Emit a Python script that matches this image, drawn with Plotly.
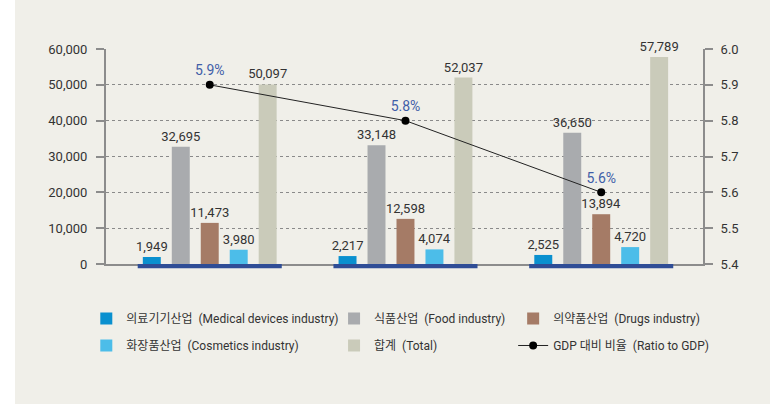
import plotly.graph_objects as go

# Industry output by year (three periods) and share of GDP
periods = ["P1", "P2", "P3"]
medical = [1949, 2217, 2525]
food = [32695, 33148, 36650]
drugs = [11473, 12598, 13894]
cosmetics = [3980, 4074, 4720]
total = [50097, 52037, 57789]
gdp_ratio = [5.9, 5.8, 5.6]
gdp_labels = ["5.9%", "5.8%", "5.6%"]

left_ticks = [0, 10000, 20000, 30000, 40000, 50000, 60000]
right_ticks = [5.4, 5.5, 5.6, 5.7, 5.8, 5.9, 6.0]

NUM_FONT = "Roboto, sans-serif"
LEG_FONT = "Roboto, Noto Sans CJK KR, sans-serif"
TXT = "#333333"

series = [
    ("의료기기산업  (Medical devices industry)", medical, "#0a90cf", "legend"),
    ("식품산업  (Food industry)", food, "#a9abae", "legend2"),
    ("의약품산업  (Drugs industry)", drugs, "#a57b66", "legend3"),
    ("화장품산업  (Cosmetics industry)", cosmetics, "#4cbde9", "legend"),
    ("합계  (Total)", total, "#cacbba", "legend2"),
]

fig = go.Figure()
for i, (name, vals, color, leg) in enumerate(series):
    fig.add_trace(go.Bar(
        x=periods, y=vals, name=name, marker_color=color,
        marker_line_width=0, legend=leg, legendgroup=f"g{i}",
        texttemplate="%{y:,}", textposition="outside", cliponaxis=False,
        constraintext="none",
        textfont=dict(family=NUM_FONT, size=13, color=TXT),
    ))

fig.add_trace(go.Scatter(
    x=periods, y=gdp_ratio, yaxis="y2", name="GDP 대비 비율  (Ratio to GDP)",
    mode="lines+markers+text", text=gdp_labels, textposition="top center",
    textfont=dict(family=NUM_FONT, size=14, color="#3f5ea8"),
    line=dict(color="#222222", width=1), marker=dict(color="#000000", size=8),
    legend="legend3", legendgroup="g5", cliponaxis=False,
))

# light panel behind everything
shapes = [dict(type="rect", xref="paper", yref="paper", x0=-0.1524, x1=1.1122,
               y0=-0.66, y1=1.25, fillcolor="#f0efe9", line_width=0, layer="below")]
# dark baseline strip under each group of bars
for i in range(len(periods)):
    shapes.append(dict(type="rect", xref="x", yref="paper", x0=i - 0.368, x1=i + 0.368,
                       y0=-0.02, y1=0.0, fillcolor="#2f4d96", line_width=0, layer="above"))

legend_common = dict(orientation="v", yanchor="top", y=-0.186, bgcolor="rgba(0,0,0,0)",
                     font=dict(family=LEG_FONT, size=12, color=TXT),
                     tracegroupgap=8, itemwidth=30)

fig.update_layout(
    width=777, height=404,
    margin=dict(l=106, r=74, t=49, b=140),
    paper_bgcolor="white", plot_bgcolor="rgba(0,0,0,0)",
    barmode="group", bargap=0.26, bargroupgap=0.38,
    shapes=shapes,
    showlegend=True,
    legend=dict(x=-0.033, **legend_common),
    legend2=dict(x=0.382, **legend_common),
    legend3=dict(x=0.682, **legend_common),
    xaxis=dict(range=[-0.53, 2.52], showticklabels=False, ticks="", showgrid=False,
               showline=True, linecolor="#8c8c8c", linewidth=1.5, zeroline=False),
    yaxis=dict(range=[0, 60000], tickvals=left_ticks, tickformat=",",
               ticks="outside", ticklen=8, tickcolor="#8c8c8c", tickwidth=1.5,
               ticklabelstandoff=6,
               showline=True, linecolor="#8c8c8c", linewidth=2,
               showgrid=True, gridcolor="#8a8a8a", griddash="dot", gridwidth=1,
               zeroline=False,
               tickfont=dict(family=NUM_FONT, size=13, color=TXT)),
    yaxis2=dict(range=[5.4, 6.0], tickvals=right_ticks, tickformat=".1f",
                overlaying="y", side="right", ticks="outside", ticklen=8,
                ticklabelstandoff=5,
                tickcolor="#8c8c8c", tickwidth=1.5, showline=True,
                linecolor="#8c8c8c", linewidth=2, showgrid=False, zeroline=False,
                tickfont=dict(family=NUM_FONT, size=13, color=TXT)),
)

fig.write_html("out.html")
